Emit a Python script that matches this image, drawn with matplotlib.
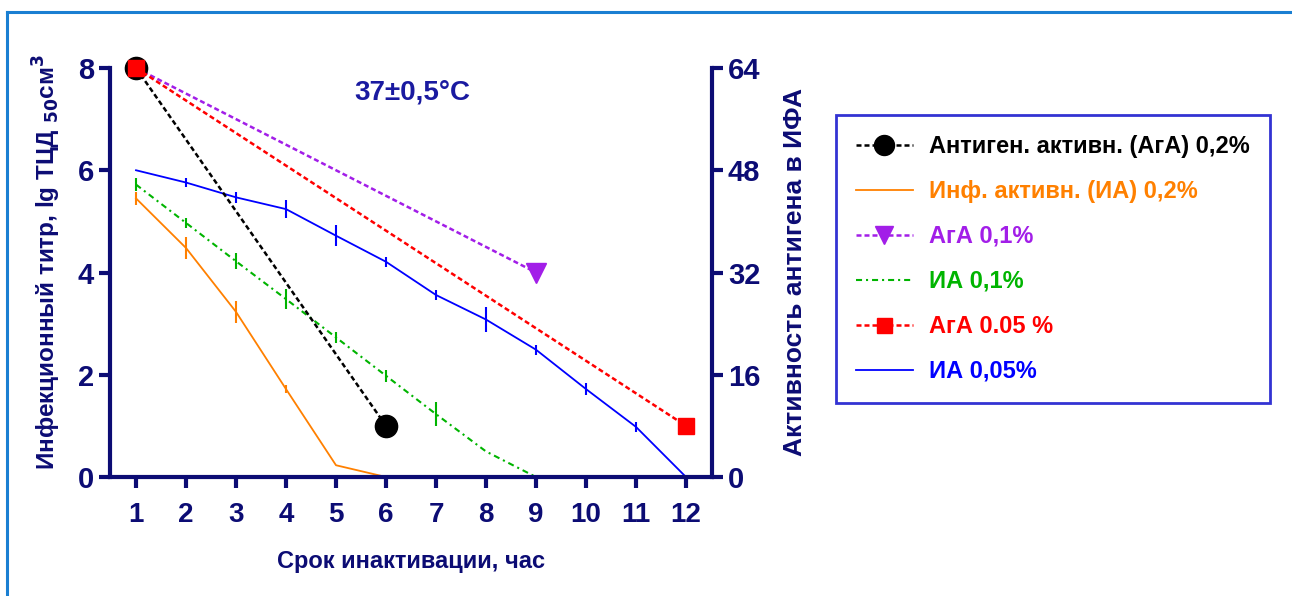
import matplotlib
matplotlib.use("Agg")
import matplotlib.pyplot as plt
from matplotlib.lines import Line2D

# infectious titre (left axis, lg)
hours_ia02 = [1, 2, 3, 4, 5, 6]
ia02 = [5.45, 4.48, 3.23, 1.72, 0.23, 0.0]
ia02_err = [0.13, 0.22, 0.22, 0.08, 0, 0]

hours_ia01 = [1, 2, 3, 4, 5, 6, 7, 8, 9]
ia01 = [5.72, 4.97, 4.22, 3.48, 2.73, 1.98, 1.23, 0.5, 0.0]
ia01_err = [0.13, 0.1, 0.16, 0.2, 0.1, 0.12, 0.24, 0, 0]

hours_ia005 = [1, 2, 3, 4, 5, 6, 7, 8, 9, 10, 11, 12]
ia005 = [6.0, 5.76, 5.47, 5.24, 4.72, 4.21, 3.56, 3.08, 2.49, 1.72, 0.98, 0.0]
ia005_err = [0, 0.08, 0.11, 0.18, 0.21, 0.1, 0.1, 0.25, 0.1, 0.12, 0.1, 0]

# antigen activity in ELISA (right axis)
hours_aga02 = [1, 6]
aga02 = [64, 8]
hours_aga01 = [1, 9]
aga01 = [64, 32]
hours_aga005 = [1, 12]
aga005 = [64, 8]

labels = ["Антиген. активн. (АгА) 0,2%", "Инф. активн. (ИА) 0,2%", "АгА 0,1%",
          "ИА 0,1%", "АгА 0.05 %", "ИА 0,05%"]

navy = "#0c0c74"
c_black = "#000000"
c_orange = "#ff8000"
c_purple = "#a21ee8"
c_green = "#00b400"
c_red = "#ff0000"
c_blue = "#0000ff"

plt.rcParams['font.family'] = ['Liberation Sans', 'DejaVu Sans']
plt.rcParams['font.weight'] = 'bold'

fig = plt.figure(figsize=(12.92, 5.96), dpi=100)
ax = fig.add_axes([110/1292, 1-477/596, (712-110)/1292, (477-68)/596])
ax2 = ax.twinx()

# IA lines with error bars on left axis
l_or, = ax.plot(hours_ia02, ia02, color=c_orange, lw=1.3)
ax.errorbar(hours_ia02, ia02, yerr=ia02_err, fmt='none', ecolor=c_orange, elinewidth=1.5, capsize=0)
l_gr, = ax.plot(hours_ia01, ia01, color=c_green, lw=1.5, dashes=(2.9, 1.9, 1, 1.9))
ax.errorbar(hours_ia01, ia01, yerr=ia01_err, fmt='none', ecolor=c_green, elinewidth=1.5, capsize=0)
l_bl, = ax.plot(hours_ia005, ia005, color=c_blue, lw=1.3)
ax.errorbar(hours_ia005, ia005, yerr=ia005_err, fmt='none', ecolor=c_blue, elinewidth=1.5, capsize=0)

# antigen lines on right axis
l_pu, = ax2.plot(hours_aga01, aga01, color=c_purple, lw=1.8, dashes=(2, 1.2),
                 marker='v', ms=14, markevery=[1], clip_on=False)
l_bk, = ax2.plot(hours_aga02, aga02, color=c_black, lw=1.8, dashes=(2, 1.2),
                 marker='o', ms=16, clip_on=False)
l_rd, = ax2.plot(hours_aga005, aga005, color=c_red, lw=1.8, dashes=(2, 1.2),
                 marker='s', ms=12, clip_on=False)

ax.set_xlim(0.48, 12.52)
ax.set_ylim(0, 8)
ax2.set_ylim(0, 64)
ax.set_xticks(range(1, 13))
ax.set_yticks([0, 2, 4, 6, 8])
ax2.set_yticks([0, 16, 32, 48, 64])

for a in (ax, ax2):
    for s in a.spines.values():
        s.set_color(navy)
        s.set_linewidth(3)
    a.spines['top'].set_visible(False)
    a.tick_params(colors=navy, width=3, length=8, labelsize=21)
ax.spines['right'].set_visible(False)
ax2.spines['left'].set_visible(False)
ax2.spines['bottom'].set_visible(False)
ax.tick_params(axis='x', pad=10, labelsize=20)

ax.set_xlabel("Срок инактивации, час", color=navy, fontsize=17, fontweight='bold', labelpad=16)
ax.set_ylabel("Инфекционный титр, lg ТЦД $_{50}$см$^{3}$", color=navy, fontsize=17.5,
              fontweight='bold')
ax.yaxis.set_label_coords(-0.078, 0.525)
ax2.set_ylabel("Активность антигена в ИФА", color=navy, fontsize=19, fontweight='bold',
               rotation=90, labelpad=16)

fig.text(412/1292, 1-92/596, "37±0,5°C", color="#1a1aa0", fontsize=20,
         fontweight='bold', ha='center', va='center')

handles = [l_bk, l_or, l_pu, l_gr, l_rd, l_bl]
leg = fig.legend(handles, labels, loc='upper left', bbox_to_anchor=(836/1292, 1-115/596),
                 fontsize=17, frameon=True, fancybox=False, handlelength=2.4,
                 handletextpad=0.7, labelspacing=0.93, borderpad=0.85, borderaxespad=0,
                 markerscale=0.9)
leg.get_frame().set_edgecolor("#0000c8")
leg.get_frame().set_linewidth(2)
for txt, col in zip(leg.get_texts(), [c_black, c_orange, c_purple, c_green, c_red, c_blue]):
    txt.set_color(col)
    txt.set_fontweight('bold')

# outer frame
fig.add_artist(Line2D([6.5/1292, 6.5/1292], [0, 1-12/596], color="#1a7fd2", lw=2.2,
                      transform=fig.transFigure))
fig.add_artist(Line2D([6.5/1292, 1], [1-12/596, 1-12/596], color="#1a7fd2", lw=2.2,
                      transform=fig.transFigure))

fig.savefig("out.png", dpi=100)
